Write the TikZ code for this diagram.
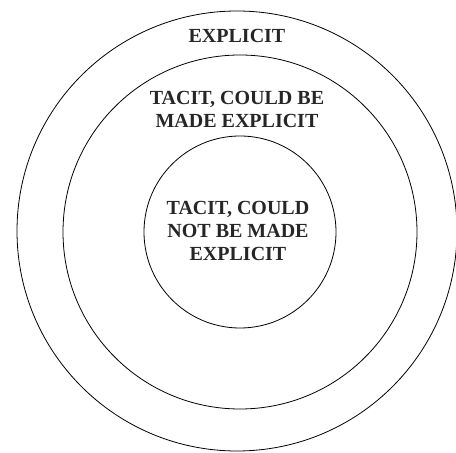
\documentclass[tikz,border=0pt]{standalone}
\usepackage{fontspec}
\setmainfont{Liberation Serif}
\usepackage{tikz}
\usetikzlibrary{positioning}

\begin{document}
\begin{tikzpicture}[x=1pt, y=1pt,
  ring/.style={draw=black, circle, line width=0.8pt, inner sep=0pt},
  lab/.style={font=\fontsize{20}{23}\selectfont\bfseries, align=center,
              text=black!85, inner sep=0pt}]
\useasboundingbox (0,0) rectangle (456,453);
% --- the three rings ---
\node[ring, minimum size=440] (outer) at (237,222) {};
\node[ring, minimum size=354] (middle) at (240,221) {};
\node[ring, minimum size=192] (inner) at (240,221) {};
% --- labels ---
\node[lab] (explicit) at (237,417) {EXPLICIT};
\node[lab] (canbe) at (237,344) {TACIT, COULD BE\\ MADE EXPLICIT};
\node[lab] (cannot) at (238,222) {TACIT, COULD\\ NOT BE MADE\\ EXPLICIT};
\end{tikzpicture}
\end{document}
